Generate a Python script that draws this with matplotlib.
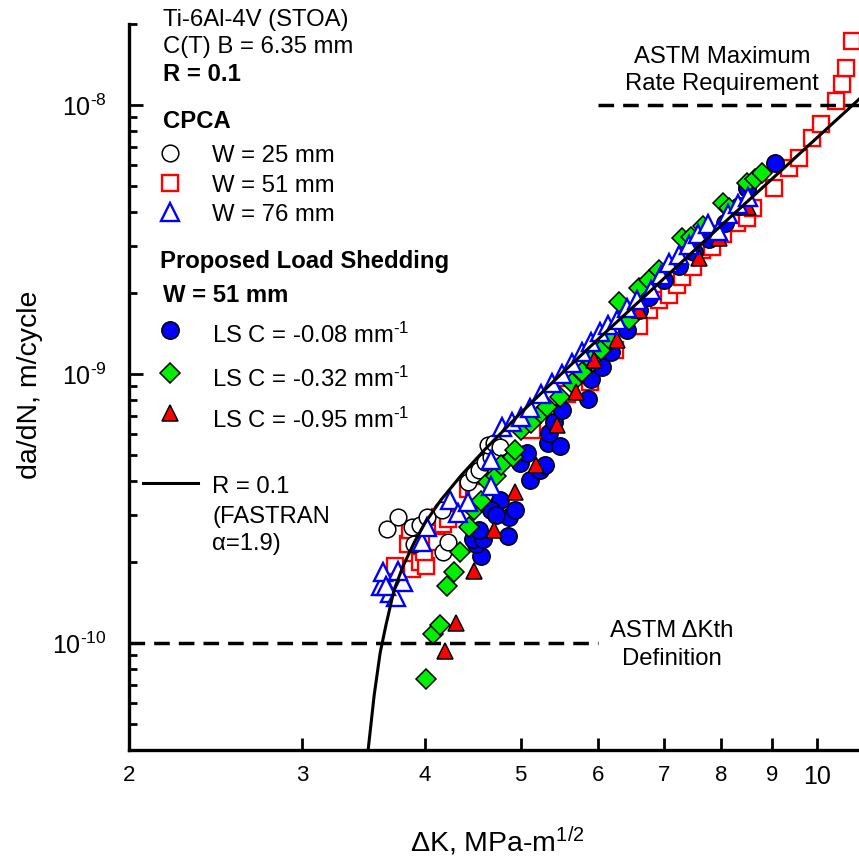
import matplotlib
matplotlib.use("Agg")
import matplotlib.pyplot as plt
from matplotlib.lines import Line2D
from matplotlib.ticker import LogLocator, NullFormatter, NullLocator

plt.rcParams['font.family'] = ['Liberation Sans', 'DejaVu Sans']
plt.rcParams['mathtext.fontset'] = 'custom'
plt.rcParams['mathtext.rm'] = 'Liberation Sans'
plt.rcParams['mathtext.it'] = 'Liberation Sans:italic'
plt.rcParams['mathtext.bf'] = 'Liberation Sans:bold'

# ---- data (dK in MPa-m^1/2, da/dN in m/cycle) ----
w25_dk = [3.66, 3.75, 3.88, 3.95, 4.02, 3.90, 4.17, 4.22, 4.16, 4.42, 4.48,
          4.54, 4.60, 4.67, 4.63, 4.70, 4.76, 8.50]
w25_rate = [2.66e-10, 2.93e-10, 2.69e-10, 2.74e-10, 2.93e-10, 2.33e-10, 2.17e-10,
            2.37e-10, 3.13e-10, 3.98e-10, 4.23e-10, 4.41e-10, 4.72e-10, 4.93e-10,
            5.46e-10, 5.55e-10, 5.37e-10, 4.93e-9]

w51_dk = [3.73, 3.88, 3.95, 4.01, 3.99, 3.84, 4.11, 3.86, 4.14, 4.17, 4.22, 4.42,
          4.48, 4.52, 5.14, 5.57, 5.88, 6.23, 6.60, 6.76, 6.92, 7.08, 7.21, 7.30,
          7.48, 7.64, 7.83, 8.03, 8.30, 8.50, 8.62, 9.04, 9.38, 9.60, 9.89, 10.11,
          10.47, 10.62, 10.72, 10.87]
w51_rate = [1.93e-10, 1.88e-10, 2.00e-10, 1.93e-10, 2.17e-10, 2.33e-10, 2.37e-10,
            2.64e-10, 2.93e-10, 2.78e-10, 2.88e-10, 3.72e-10, 3.79e-10, 3.65e-10,
            6.20e-10, 8.40e-10, 9.30e-10, 1.227e-9, 1.51e-9, 1.73e-9, 1.88e-9,
            1.97e-9, 2.14e-9, 2.29e-9, 2.49e-9, 2.88e-9, 2.96e-9, 3.32e-9, 3.64e-9,
            3.79e-9, 4.13e-9, 4.93e-9, 5.84e-9, 6.37e-9, 7.55e-9, 8.50e-9,
            1.035e-8, 1.20e-8, 1.37e-8, 1.73e-8]

w76_dk = [3.61, 3.68, 3.74, 3.80, 3.62, 3.75, 3.65, 3.97, 4.02, 4.24, 4.32, 4.42,
          4.67, 4.67, 4.79, 4.90, 5.01, 5.11, 5.25, 5.38, 5.51, 5.64, 5.77, 5.90,
          6.02, 6.13, 6.27, 6.41, 6.56, 6.79, 6.95, 7.08, 7.25, 7.42, 7.57, 7.76,
          7.94, 8.13, 8.32, 8.52]
w76_rate = [1.63e-10, 1.54e-10, 1.48e-10, 1.68e-10, 1.83e-10, 1.85e-10, 1.63e-10,
            2.37e-10, 2.69e-10, 3.41e-10, 3.05e-10, 3.33e-10, 4.80e-10, 3.82e-10,
            6.37e-10, 6.63e-10, 6.90e-10, 7.50e-10, 8.40e-10, 9.24e-10, 1.00e-9,
            1.10e-9, 1.21e-9, 1.31e-9, 1.43e-9, 1.52e-9, 1.585e-9, 1.76e-9, 1.88e-9,
            2.05e-9, 2.33e-9, 2.59e-9, 2.78e-9, 3.02e-9, 3.30e-9, 3.62e-9, 3.41e-9,
            3.94e-9, 4.30e-9, 4.53e-9]

ls008_dk = [4.56, 4.50, 4.47, 4.58, 4.54, 4.76, 4.85, 4.87, 4.93, 4.67, 4.72, 4.99,
            5.08, 5.11, 5.23, 5.30, 5.33, 5.48, 5.35, 5.41, 5.51, 5.85, 5.90, 6.05,
            6.18, 6.41, 6.60, 6.76, 7.00, 7.25, 7.51, 7.78, 8.06, 8.34, 8.50, 9.08]
ls008_rate = [2.10e-10, 2.33e-10, 2.43e-10, 2.43e-10, 2.64e-10, 3.41e-10, 2.49e-10,
              2.93e-10, 3.13e-10, 3.13e-10, 3.00e-10, 4.67e-10, 5.08e-10, 4.05e-10,
              4.41e-10, 4.60e-10, 5.52e-10, 5.42e-10, 6.05e-10, 6.63e-10, 7.36e-10,
              8.10e-10, 9.60e-10, 1.06e-9, 1.21e-9, 1.455e-9, 1.73e-9, 1.93e-9,
              2.23e-9, 2.52e-9, 2.83e-9, 3.17e-9, 3.64e-9, 4.22e-9, 4.93e-9, 6.10e-9]

ls032_dk = [4.01, 4.07, 4.14, 4.21, 4.28, 4.34, 4.43, 4.48, 4.56, 4.63, 4.72, 4.78,
            4.91, 4.93, 5.01, 5.12, 5.24, 5.32, 5.48, 5.64, 5.77, 5.90, 6.04, 6.16,
            6.30, 6.45, 6.60, 6.76, 6.92, 7.30, 7.45, 7.67, 8.03, 8.15, 8.50, 8.66,
            8.79]
ls032_rate = [7.36e-11, 1.08e-10, 1.17e-10, 1.63e-10, 1.84e-10, 2.17e-10, 2.69e-10,
              3.13e-10, 3.37e-10, 3.95e-10, 4.16e-10, 4.59e-10, 4.93e-10, 5.23e-10,
              6.20e-10, 6.57e-10, 7.15e-10, 7.56e-10, 8.23e-10, 9.24e-10, 1.02e-9,
              1.127e-9, 1.227e-9, 1.336e-9, 1.85e-9, 1.585e-9, 2.09e-9, 2.23e-9,
              2.43e-9, 3.19e-9, 3.22e-9, 3.54e-9, 4.33e-9, 4.15e-9, 5.14e-9, 5.32e-9,
              5.60e-9]

ls095_dk = [4.19, 4.30, 4.48, 4.70, 4.93, 5.18, 5.44, 5.69, 5.94, 6.27, 6.59, 7.60,
            7.96, 8.52]
ls095_rate = [9.33e-11, 1.19e-10, 1.85e-10, 2.64e-10, 3.65e-10, 4.59e-10, 6.48e-10,
              8.56e-10, 1.127e-9, 1.336e-9, 1.73e-9, 2.69e-9, 3.19e-9, 4.17e-9]

fastran_dk = [3.50, 3.55, 3.60, 3.65, 3.72, 3.80, 3.90, 4.00, 4.15, 4.35, 4.60,
              5.00, 5.50, 6.00, 7.00, 8.00, 11.04]
fastran_rate = [4.0e-11, 6.4e-11, 9.2e-11, 1.17e-10, 1.58e-10, 1.94e-10, 2.37e-10,
                2.80e-10, 3.40e-10, 4.19e-10, 5.24e-10, 7.15e-10, 1.0e-9, 1.35e-9,
                2.27e-9, 3.57e-9, 1.05e-8]

astm_max_rate = 1e-8
astm_max_dk = [6.0, 11.04]
astm_th_rate = 1e-10
astm_th_dk = [2.0, 6.0]

HY = '\u2010'  # short hyphen, as in the original superscripts
xtick_vals = [2, 3, 4, 5, 6, 7, 8, 9, 10]
xtick_labels = ['2', '3', '4', '5', '6', '7', '8', '9', '10']
ytick_vals = [1e-10, 1e-9, 1e-8]
ytick_labels = ['10$^{' + HY + '10}$', '10$^{' + HY + '9}$', '10$^{' + HY + '8}$']

# ---- figure ----
W, H = 859, 857
fig = plt.figure(figsize=(W / 100, H / 100), dpi=100)


def fx(px):
    return px / W


def fy(py):
    return 1 - py / H


ax = fig.add_axes([fx(129), fy(750), fx(859) - fx(129), fy(24) - fy(750)])
ax.set_xscale('log')
ax.set_yscale('log')

RED = '#ff0000'
BLUE = '#0000ff'
GREEN = '#00ee00'

sty_w51 = dict(ls='none', marker='s', ms=11, mfc='white', mec=RED, mew=1.7)
sty_w25 = dict(ls='none', marker='o', ms=12, mfc='white', mec='black', mew=1.1)
sty_ls008 = dict(ls='none', marker='o', ms=12.5, mfc=BLUE, mec='black', mew=1.1)
sty_ls032 = dict(ls='none', marker='D', ms=9.8, mfc=GREEN, mec='black', mew=1.1)
sty_ls095 = dict(ls='none', marker='^', ms=12, mfc=RED, mec='black', mew=1.1)
sty_w76 = dict(ls='none', marker='^', ms=13, mfc='white', mec=BLUE, mew=1.7)

ax.plot(w51_dk, w51_rate, zorder=2, **sty_w51)
ax.plot(w25_dk, w25_rate, zorder=3, **sty_w25)
ax.plot(ls008_dk, ls008_rate, zorder=4, **sty_ls008)
ax.plot(ls032_dk, ls032_rate, zorder=5, **sty_ls032)
ax.plot(ls095_dk, ls095_rate, zorder=6, **sty_ls095)
ax.plot(w76_dk, w76_rate, zorder=7, **sty_w76)
ax.plot(fastran_dk, fastran_rate, color='black', lw=2.2, zorder=8)

dash = (0, (4.5, 2.6))
ax.plot(astm_max_dk, [astm_max_rate] * 2, color='black', lw=2.5, ls=dash, zorder=9)
ax.plot(astm_th_dk, [astm_th_rate] * 2, color='black', lw=2.5, ls=dash, zorder=9)

ax.set_xlim(2, 11.04)
ax.set_ylim(4e-11, 2e-8)

ax.set_xticks(xtick_vals, labels=xtick_labels)
ax.xaxis.set_minor_locator(NullLocator())
for lab in ax.get_xticklabels():
    lab.set_fontsize(18 if lab.get_text() == '10' else 16)
ax.set_yticks(ytick_vals, labels=ytick_labels)
ax.yaxis.set_minor_locator(LogLocator(base=10, subs=range(2, 10)))
ax.yaxis.set_minor_formatter(NullFormatter())

ax.tick_params(axis='x', which='major', direction='in', length=9, width=2, pad=11)
ax.tick_params(axis='y', which='major', direction='in', length=10, width=2,
               pad=16, labelsize=18)
ax.tick_params(axis='y', which='minor', direction='in', length=6, width=2)
ax.tick_params(top=False, right=False, which='both')

for side in ('top', 'right'):
    ax.spines[side].set_visible(False)
for side in ('left', 'bottom'):
    ax.spines[side].set_linewidth(2.4)

# axis labels
fig.text(fx(497), fy(852), '\u0394K, MPa-m$^{1/2}$', fontsize=20.5,
         ha='center', va='baseline')
fig.text(fx(30), fy(385), 'da/dN, m/cycle', fontsize=20.5, rotation=90,
         ha='center', va='center')

# ---- legend block (drawn as text + markers) ----
FS = 17.2
fig.text(fx(163), fy(26), 'Ti-6Al-4V (STOA)', fontsize=FS, va='baseline')
fig.text(fx(163), fy(53), 'C(T) B = 6.35 mm', fontsize=FS, va='baseline')
fig.text(fx(163), fy(81), 'R = 0.1', fontsize=FS, weight='bold', va='baseline')
fig.text(fx(163), fy(128), 'CPCA', fontsize=FS, weight='bold', va='baseline')
fig.text(fx(160), fy(268), 'Proposed Load Shedding', fontsize=FS, weight='bold',
         va='baseline')
fig.text(fx(163), fy(302), 'W = 51 mm', fontsize=FS, weight='bold', va='baseline')

legend_rows = [
    (153, 162, 'W = 25 mm', sty_w25),
    (183, 192, 'W = 51 mm', sty_w51),
    (212, 221, 'W = 76 mm', sty_w76),
    (330, 343, 'LS C = -0.08 mm$^{' + HY + '1}$', sty_ls008),
    (373, 387, 'LS C = -0.32 mm$^{' + HY + '1}$', sty_ls032),
    (413, 428, 'LS C = -0.95 mm$^{' + HY + '1}$', sty_ls095),
]
for my, ty, label, sty in legend_rows:
    fig.add_artist(Line2D([fx(170)], [fy(my)], transform=fig.transFigure, **sty))
    fig.text(fx(212), fy(ty), label, fontsize=FS, va='baseline')

fig.add_artist(Line2D([fx(143), fx(198)], [fy(483), fy(483)],
                      transform=fig.transFigure, color='black', lw=2.2))
fig.text(fx(212), fy(493), 'R = 0.1', fontsize=FS, va='baseline')
fig.text(fx(212), fy(523), '(FASTRAN', fontsize=FS, va='baseline')
fig.text(fx(212), fy(550), '\u03b1=1.9)', fontsize=FS, va='baseline')

# annotations for the ASTM limits
fig.text(fx(722), fy(63), 'ASTM Maximum', fontsize=FS, ha='center', va='baseline')
fig.text(fx(722), fy(90), 'Rate Requirement', fontsize=FS, ha='center', va='baseline')
fig.text(fx(672), fy(637), 'ASTM \u0394Kth', fontsize=FS, ha='center',
         va='baseline')
fig.text(fx(672), fy(665), 'Definition', fontsize=FS, ha='center', va='baseline')

fig.savefig('out.png', dpi=100)
